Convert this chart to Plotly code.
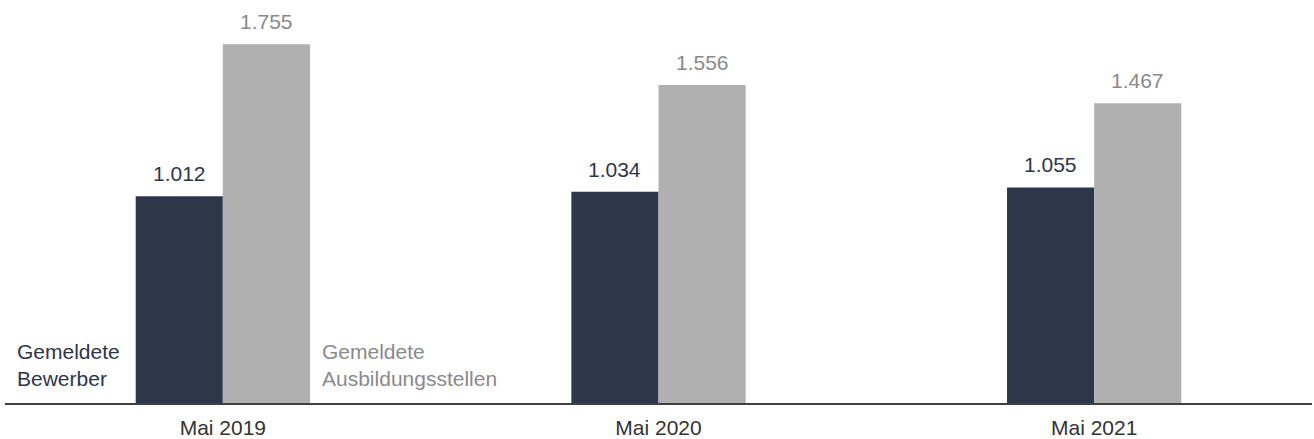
import plotly.graph_objects as go

categories = ["Mai 2019", "Mai 2020", "Mai 2021"]
bewerber = [1012, 1034, 1055]
stellen = [1755, 1556, 1467]
series_names = ["Gemeldete<br>Bewerber", "Gemeldete<br>Ausbildungsstellen"]

DARK = "#2e364a"
GRAY = "#b0b0b0"
GRAY_TEXT = "#8a8a8a"
FONT = "Liberation Sans, Arial, sans-serif"
FS = 21

fig = go.Figure()
fig.add_trace(go.Bar(x=categories, y=bewerber, marker_color=DARK, marker_line_width=0))
fig.add_trace(go.Bar(x=categories, y=stellen, marker_color=GRAY, marker_line_width=0))


def fmt(v):
    return f"{v:,}".replace(",", ".")


for i, (b, s) in enumerate(zip(bewerber, stellen)):
    fig.add_annotation(x=i - 0.1, y=b, text=fmt(b), showarrow=False, yanchor="bottom",
                       xanchor="center", yshift=9, font=dict(color=DARK, size=FS, family=FONT))
    fig.add_annotation(x=i + 0.1, y=s, text=fmt(s), showarrow=False, yanchor="bottom",
                       xanchor="center", yshift=9, font=dict(color=GRAY_TEXT, size=FS, family=FONT))

fig.add_annotation(text=series_names[0], xref="paper", yref="y", x=0.0077, y=0,
                   xanchor="left", yanchor="bottom", align="left", showarrow=False,
                   yshift=11, font=dict(color=DARK, size=FS, family=FONT))
fig.add_annotation(text=series_names[1], xref="paper", yref="y", x=0.241, y=0,
                   xanchor="left", yanchor="bottom", align="left", showarrow=False,
                   yshift=11, font=dict(color=GRAY_TEXT, size=FS, family=FONT))

fig.update_layout(
    width=1314, height=439,
    margin=dict(l=5, r=2, t=20, b=36),
    barmode="group", bargap=0.6, bargroupgap=0,
    showlegend=False,
    plot_bgcolor="white", paper_bgcolor="white",
    font=dict(family=FONT, size=FS, color="#333333"),
)
fig.update_xaxes(showline=True, linecolor="#404040", linewidth=2, ticks="",
                 ticklabelstandoff=5, automargin=False,
                 tickfont=dict(size=FS, color="#333333", family=FONT), range=[-0.5, 2.5])
fig.update_yaxes(visible=False, range=[0, 1874], showgrid=False, automargin=False)

fig.write_html("out.html", config={"displayModeBar": False},
               post_script="document.body.style.margin='0px';")
